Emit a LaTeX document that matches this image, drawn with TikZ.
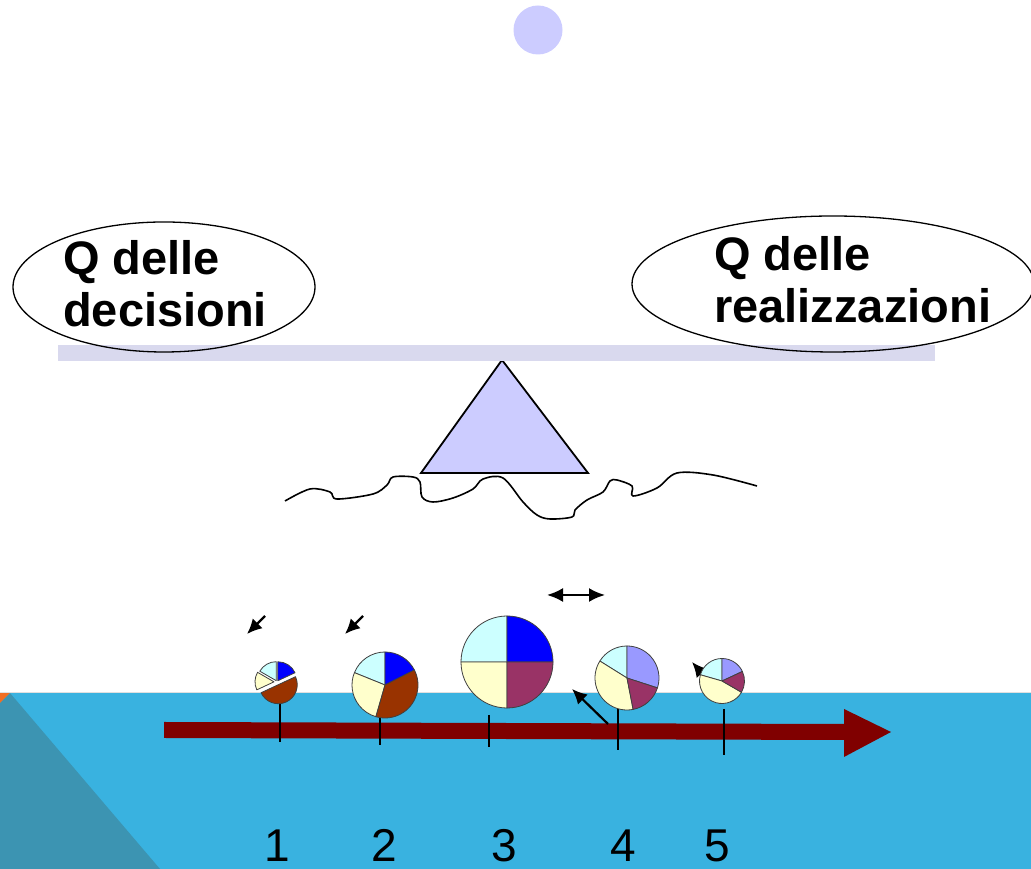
\documentclass[tikz,border=0pt]{standalone}
\usepackage{fontspec}
\setmainfont{Liberation Sans}
\usetikzlibrary{arrows.meta}
\definecolor{water}{RGB}{57,178,224}
\definecolor{waterdark}{RGB}{60,148,178}
\definecolor{corner}{RGB}{242,110,34}
\definecolor{lilac}{RGB}{204,204,255}
\definecolor{beam}{RGB}{217,217,238}
\definecolor{darkred}{RGB}{128,0,0}
\definecolor{piecyan}{RGB}{204,255,255}
\definecolor{pieblue}{RGB}{0,0,255}
\definecolor{piebrown}{RGB}{153,51,0}
\definecolor{pieyellow}{RGB}{255,255,204}
\definecolor{pieplum}{RGB}{153,51,102}
\definecolor{pieviolet}{RGB}{153,153,255}

\begin{document}
\begin{tikzpicture}[x=1pt,y=1pt]
        \tikzstyle{every node}=[inner sep=0pt]
        \tikzstyle{slice}=[draw=black!75, line width=0.8pt, line join=round]
        \tikzstyle{tick}=[line width=1.6pt]
        \tikzstyle{small arrow}=[line width=2.2pt, -{Latex[length=15pt,width=14pt]}]
        \tikzstyle{title}=[font=\fontsize{47}{52}\selectfont\bfseries, align=left, anchor=north west]
        \tikzstyle{number}=[font=\fontsize{46}{50}\selectfont, anchor=base]

        \useasboundingbox (0,0) rectangle (1031,869);
        \fill [white] (0,0) rectangle (1031,869);

        % water at the bottom
        \fill [water] (0,0) rectangle (1031,176);
        \fill [waterdark] (0,0) -- (0,166) -- (10,176) -- (160,0) -- cycle;
        \fill [corner] (0,176) -- (10,176) -- (0,166) -- cycle;
        \draw [black!12, line width=1.2pt] (0,176.5) -- (1031,176.5);

        % time line
        \fill [darkred] (164,131) -- (844,129) -- (844,112) -- (891,137) -- (844,160) -- (844,145) -- (164,147) -- cycle;

        \coordinate (p1) at (277,187);
        \coordinate (p2) at (385,184);
        \coordinate (p3) at (507,207);
        \coordinate (p4) at (627,191);
        \coordinate (p5) at (722,188);

        \draw [tick] (280,166) -- (280,127);
        \draw [tick] (380,152) -- (380,124);
        \draw [tick] (489,154) -- (489,122);
        \draw [tick] (618,161) -- (618,119);
        \draw [tick] (724,160) -- (724,114);

        % arrows
        \coordinate (a1) at (265,253);
        \coordinate (b1) at (247,235);
        \coordinate (a2) at (363,253);
        \coordinate (b2) at (345,235);
        \coordinate (a3) at (547,274);
        \coordinate (b3) at (605,274);
        \coordinate (a4) at (608,145);
        \coordinate (b4) at (572,180);
        \coordinate (a5) at (712,184);
        \coordinate (b5) at (692,207);
        \draw [small arrow] (a1) -- (b1);
        \draw [small arrow] (a2) -- (b2);
        \draw [line width=2.2pt, {Latex[length=16pt,width=14pt]}-{Latex[length=16pt,width=14pt]}] (a3) -- (b3);
        \draw [small arrow] (a4) -- (b4);
        \draw [small arrow] (a5) -- (b5);

        % pie 1 (exploded)
        \filldraw [slice, fill=piecyan] (p1) ++(120:1.5) -- ++(90:19) arc (90:150:19) -- cycle;
        \filldraw [slice, fill=pieblue] (p1) ++(57:1.5) -- ++(90:19) arc (90:25:19) -- cycle;
        \filldraw [slice, fill=pieyellow] (p1) ++(177:3) -- ++(150:19) arc (150:205:19) -- cycle;
        \filldraw [slice, fill=piebrown] (p1) ++(295:3) -- ++(205:19) arc (205:385:19) -- cycle;

        % pie 2
        \filldraw [slice, fill=piecyan] (p2) -- ++(90:33) arc (90:158:33) -- cycle;
        \filldraw [slice, fill=pieblue] (p2) -- ++(27:33) arc (27:90:33) -- cycle;
        \filldraw [slice, fill=pieyellow] (p2) -- ++(158:33) arc (158:254:33) -- cycle;
        \filldraw [slice, fill=piebrown] (p2) -- ++(254:33) arc (254:387:33) -- cycle;

        % pie 3
        \filldraw [slice, fill=piecyan] (p3) -- ++(90:46) arc (90:180:46) -- cycle;
        \filldraw [slice, fill=pieblue] (p3) -- ++(0:46) arc (0:90:46) -- cycle;
        \filldraw [slice, fill=pieyellow] (p3) -- ++(180:46) arc (180:270:46) -- cycle;
        \filldraw [slice, fill=pieplum] (p3) -- ++(270:46) arc (270:360:46) -- cycle;

        % pie 4
        \filldraw [slice, fill=piecyan] (p4) -- ++(90:32) arc (90:148:32) -- cycle;
        \filldraw [slice, fill=pieviolet] (p4) -- ++(-18:32) arc (-18:90:32) -- cycle;
        \filldraw [slice, fill=pieyellow] (p4) -- ++(148:32) arc (148:281:32) -- cycle;
        \filldraw [slice, fill=pieplum] (p4) -- ++(281:32) arc (281:342:32) -- cycle;

        % pie 5
        \filldraw [slice, fill=piecyan] (p5) -- ++(90:22.5) arc (90:164:22.5) -- cycle;
        \filldraw [slice, fill=pieviolet] (p5) -- ++(25:22.5) arc (25:90:22.5) -- cycle;
        \filldraw [slice, fill=pieyellow] (p5) -- ++(164:22.5) arc (164:330:22.5) -- cycle;
        \filldraw [slice, fill=pieplum] (p5) -- ++(330:22.5) arc (330:385:22.5) -- cycle;

        \node [number] (n1) at (277,7) {1};
        \node [number] (n2) at (384,7) {2};
        \node [number] (n3) at (504,7) {3};
        \node [number] (n4) at (623,7) {4};
        \node [number] (n5) at (717,7) {5};

        % ground
        \draw [line width=1.6pt, line join=round] plot [smooth, tension=0.55] coordinates {
            (285,368) (310,380) (330,377) (337,370) (373,375) (387,384) (393,392) (413,392)
            (420,387) (422,372) (433,367) (453,371) (473,380) (483,390) (503,391) (523,367)
            (537,354) (550,350) (572,352) (575,359) (587,369) (603,377) (610,388) (617,389)
            (632,383) (633,373) (657,381) (677,396) (713,394) (757,383)};

        % balance
        \filldraw [fill=lilac, line width=1.8pt, line join=miter] (502,509) -- (421,396) -- (588,396) -- cycle;
        \fill [beam] (58,508) rectangle (935,524);
        \fill [lilac] (538,839) circle (24.5);

        \draw [line width=1.3pt] (164,582) ellipse (151 and 65);
        \draw [line width=1.3pt] (833,585) ellipse (201 and 68);
        \node [title] (qdec) at (63,629) {Q delle\\decisioni};
        \node [title] (qreal) at (714,633) {Q delle\\realizzazioni};
\end{tikzpicture}
\end{document}
